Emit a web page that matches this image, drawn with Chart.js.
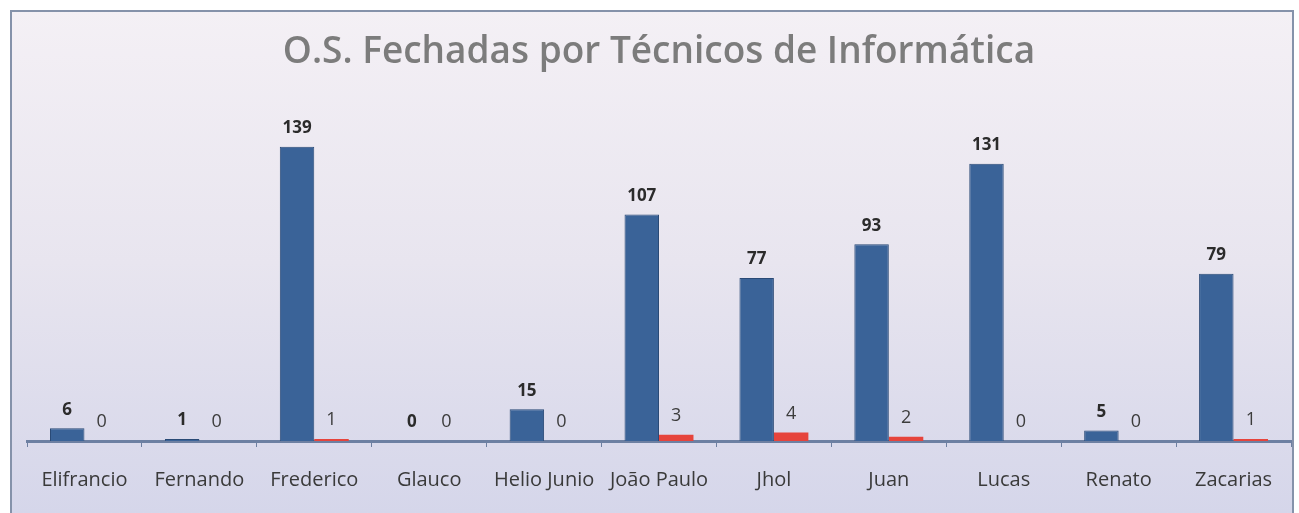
<!DOCTYPE html>
<html>
<head>
<meta charset="utf-8">
<script src="https://cdn.jsdelivr.net/npm/chart.js@4.4.1/dist/chart.umd.min.js"></script>
<style>
  html, body { margin: 0; padding: 0; background: #ffffff; }
  #wrap { width: 1299px; height: 513px; position: relative; }
</style>
</head>
<body>
<div id="wrap"><canvas id="osChart"></canvas></div>
<script>
// O.S. fechadas / pendentes por técnico
const tecnicos = ['Elifrancio', 'Fernando', 'Frederico', 'Glauco', 'Helio Junio', 'João Paulo', 'Jhol', 'Juan', 'Lucas', 'Renato', 'Zacarias'];
const fechadas = [6, 1, 139, 0, 15, 107, 77, 93, 131, 5, 79];
const outras = [0, 0, 1, 0, 0, 3, 4, 2, 0, 0, 1];
const titulo = 'O.S. Fechadas por Técnicos de Informática';

// fundo em degradê com moldura
const fundoPlugin = {
  id: 'fundo',
  beforeDraw(chart) {
    const { ctx, width, height } = chart;
    ctx.save();
    const g = ctx.createLinearGradient(0, 10, 0, height);
    g.addColorStop(0, '#f4f0f5');
    g.addColorStop(0.5, '#e8e5ef');
    g.addColorStop(1, '#d5d6ea');
    ctx.fillStyle = g;
    ctx.fillRect(11, 11, width - 17, height);
    ctx.strokeStyle = '#8592aa';
    ctx.lineWidth = 2;
    ctx.beginPath();
    ctx.moveTo(11, height + 5);
    ctx.lineTo(11, 11);
    ctx.lineTo(width - 6, 11);
    ctx.lineTo(width - 6, height + 5);
    ctx.stroke();
    ctx.restore();
  }
};

// rótulos de valor acima das barras
const rotulosPlugin = {
  id: 'rotulos',
  afterDatasetsDraw(chart) {
    const { ctx } = chart;
    ctx.save();
    ctx.textAlign = 'center';
    ctx.textBaseline = 'bottom';
    chart.data.datasets.forEach((ds, i) => {
      const meta = chart.getDatasetMeta(i);
      ctx.font = i === 0 ? 'bold 17px "Open Sans", sans-serif' : '18px "Open Sans", sans-serif';
      ctx.fillStyle = i === 0 ? '#2b2b2b' : '#3c3c3c';
      meta.data.forEach((bar, j) => {
        ctx.fillText(String(ds.data[j]), bar.x, bar.y - 10);
      });
    });
    ctx.restore();
  }
};

// leve degradê horizontal nas barras azuis
function azul(context) {
  const el = context.element;
  if (!el || !el.width) return '#3a6398';
  const g = context.chart.ctx.createLinearGradient(el.x - el.width / 2, 0, el.x + el.width / 2, 0);
  g.addColorStop(0, '#2f5486');
  g.addColorStop(0.45, '#3e679c');
  g.addColorStop(1, '#2a4c7b');
  return g;
}

new Chart(document.getElementById('osChart'), {
  type: 'bar',
  data: {
    labels: tecnicos,
    datasets: [
      { label: 'Fechadas', data: fechadas, backgroundColor: azul, borderColor: '#2a4a76', borderWidth: 1, borderSkipped: 'bottom' },
      { label: 'Outras', data: outras, backgroundColor: '#e6443c', borderWidth: 0 }
    ]
  },
  options: {
    responsive: true,
    maintainAspectRatio: false,
    animation: false,
    categoryPercentage: 0.6,
    barPercentage: 1.0,
    layout: { padding: { left: 27, right: 8, top: 0, bottom: 0 } },
    plugins: {
      legend: { display: false },
      tooltip: { enabled: false },
      title: {
        display: true,
        text: titulo,
        color: '#7c7c7c',
        font: { family: '"Open Sans", sans-serif', size: 37, weight: '600' },
        padding: { top: 30, bottom: 28 }
      }
    },
    scales: {
      x: {
        grid: { display: true, drawOnChartArea: false, color: '#6d7fa0', tickLength: 6, offset: true },
        border: { display: true, color: '#6d80a2', width: 3 },
        ticks: {
          autoSkip: false, maxRotation: 0, padding: 21,
          color: '#3a3a3a',
          font: { family: '"Open Sans", sans-serif', size: 20 }
        }
      },
      y: {
        display: false,
        min: 0,
        max: 160
      }
    }
  },
  plugins: [fundoPlugin, rotulosPlugin]
});
</script>
</body>
</html>
